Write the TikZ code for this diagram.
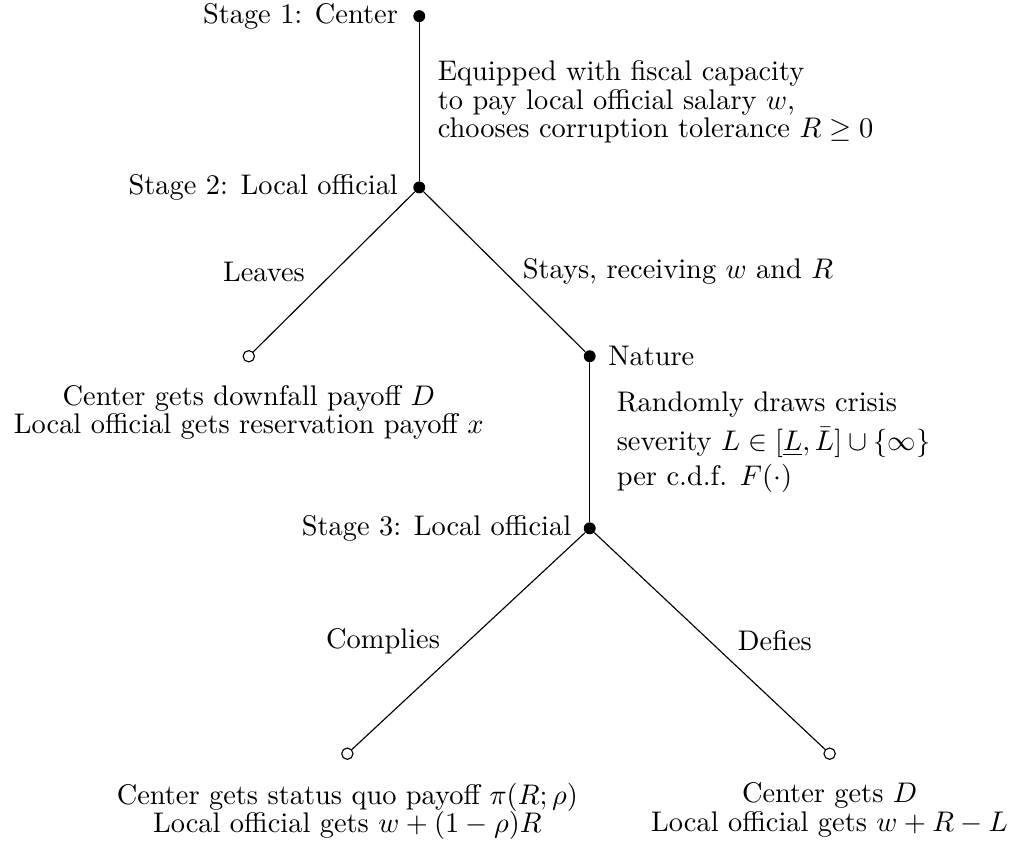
\documentclass[tikz,border=0pt]{standalone}
\usetikzlibrary{positioning}
\begin{document}
\begin{tikzpicture}[line join=round,line cap=round,font=\fontsize{10pt}{10pt}\selectfont,
		player/.style={circle,fill=black,inner sep=0pt,minimum size=4.2pt},
		outcome/.style={circle,draw,fill=white,inner sep=0pt,minimum size=4pt},
		payoff/.style={align=center}]
		\useasboundingbox (-5.19,0.20) rectangle (7.35,-10.20);
		%%%%%%%%%%%%%%%
		\node[player] (center) at (0,0) {};
		\node[player] (official) at (0,-2.12) {};
		\node[outcome] (leave) at (-2.11,-4.21) {};
		\node[player] (nature) at (2.11,-4.21) {};
		\node[player] (crisis) at (2.11,-6.34) {};
		\node[outcome] (comply) at (-0.89,-9.13) {};
		\node[outcome] (defy) at (5.08,-9.13) {};
		%%%%%%%%%%%%%%%
		\node[left=1.7pt of center] (stageone) {Stage 1: Center};
		\node[left=1.7pt of official] (stagetwo) {Stage 2: Local official};
		\node[right=0.7pt of nature] (naturename) {Nature};
		\node[left=0.7pt of crisis] (stagethree) {Stage 3: Local official};
		%%%%%%%%%%%%%%%
		\draw (center) -- node[right=3pt,align=left] (budget) {Equipped with fiscal capacity\\to pay local official salary $w$,\\chooses corruption tolerance $R\geq 0$} (official);
		\draw (official) -- node[left=6.7pt] (leaves) {Leaves} (leave);
		\draw (official) -- node[right=2.9pt] (stays) {Stays, receiving $w$ and $R$} (nature);
		\draw (nature) -- node[right=6pt,align=left] (draws) {Randomly draws crisis\\[2.5pt]severity $L\in[\underline{L},\bar{L}]\cup\{\infty\}$\\[2.5pt]per c.d.f. $F(\cdot)$} (crisis);
		\draw (crisis) -- node[left=6.5pt] (complies) {Complies} (comply);
		\draw (crisis) -- node[right=6.4pt] (defies) {Defies} (defy);
		%%%%%%%%%%%%%%%
		\node[payoff,below=4.5pt of leave] (leavepay) {Center gets downfall payoff $D$\\Local official gets reservation payoff $x$};
		\node[payoff,below=4.5pt of comply] (complypay) {Center gets status quo payoff $\pi(R;\rho)$\\Local official gets $w+(1-\rho)R$};
		\node[payoff,below=4.5pt of defy] (defypay) {Center gets $D$\\Local official gets $w+R-L$};
\end{tikzpicture}
\end{document}
